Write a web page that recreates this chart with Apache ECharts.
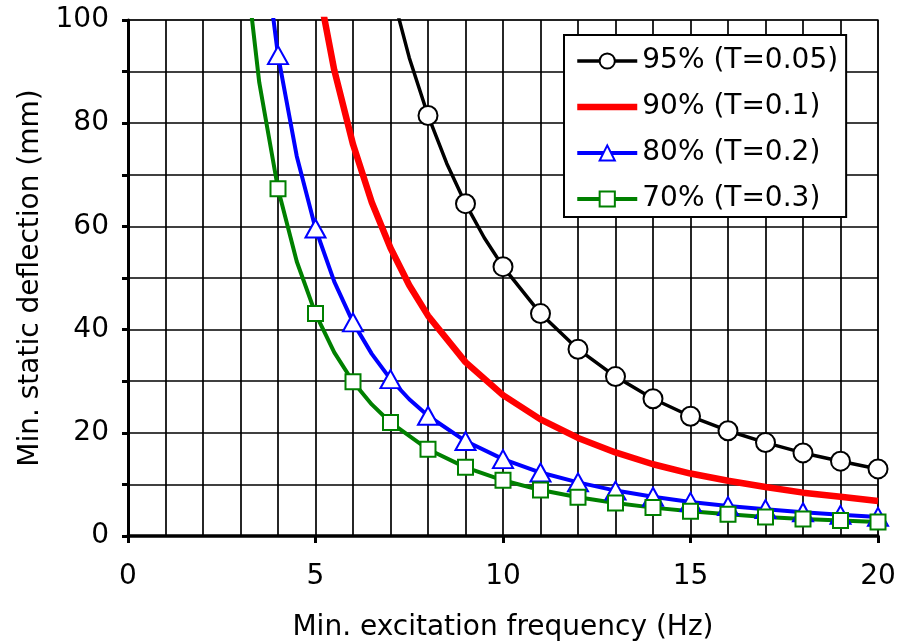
<!DOCTYPE html>
<html>
<head>
<meta charset="utf-8">
<script src="https://cdn.jsdelivr.net/npm/echarts@6/dist/echarts.min.js"></script>
<style>
  html, body { margin: 0; padding: 0; background: #fff; }
  #chart { width: 913px; height: 644px; }
</style>
</head>
<body>
<div id="chart"></div>
<script>
// Minimum static deflection needed for a given isolation efficiency
const seriesNames = ['95% (T=0.05)', '90% (T=0.1)', '80% (T=0.2)', '70% (T=0.3)'];

const freq95 = [7, 7.5, 8, 8.5, 9, 9.5, 10, 11, 12, 13, 14, 15, 16, 17, 18, 19, 20];
const defl95 = [106.5, 92.7, 81.5, 72.2, 64.4, 57.8, 52.2, 43.1, 36.2, 30.9, 26.6, 23.2, 20.4, 18.1, 16.1, 14.5, 13.0];

const freq90 = [5, 5.5, 6, 6.5, 7, 7.5, 8, 9, 10, 11, 12, 13, 14, 15, 16, 17, 18, 19, 20];
const defl90 = [109.3, 90.3, 75.9, 64.7, 55.8, 48.6, 42.7, 33.7, 27.3, 22.6, 19.0, 16.2, 13.9, 12.1, 10.7, 9.5, 8.4, 7.6, 6.8];

const freq80 = [3.5, 4, 4.5, 5, 5.5, 6, 6.5, 7, 7.5, 8, 9, 10, 11, 12, 13, 14, 15, 16, 17, 18, 19, 20];
const defl80 = [121.7, 93.2, 73.6, 59.6, 49.3, 41.4, 35.3, 30.4, 26.5, 23.3, 18.4, 14.9, 12.3, 10.4, 8.8, 7.6, 6.6, 5.8, 5.2, 4.6, 4.1, 3.7];

const freq70 = [3, 3.5, 4, 4.5, 5, 5.5, 6, 6.5, 7, 8, 9, 10, 11, 12, 13, 14, 15, 16, 17, 18, 19, 20];
const defl70 = [119.6, 87.9, 67.3, 53.2, 43.1, 35.6, 29.9, 25.5, 22.0, 16.8, 13.3, 10.8, 8.9, 7.5, 6.4, 5.5, 4.8, 4.2, 3.7, 3.3, 3.0, 2.7];

const xTicks = [0, 5, 10, 15, 20];
const yTicks = [0, 20, 40, 60, 80, 100];

const FONT = '"DejaVu Sans", Verdana, sans-serif';
const LINE_W = [3.5, 6.5, 4, 4];
const COLORS = ['#000000', '#ff0000', '#0000ff', '#008000'];

// markers sit on whole-hertz points only; in-between points just shape the curve
function points(xs, ys) {
  return xs.map((x, i) => Number.isInteger(x)
    ? { value: [x, ys[i]] }
    : { value: [x, ys[i]], symbol: 'none' });
}

const chart = echarts.init(document.getElementById('chart'), null, { renderer: 'canvas' });

chart.setOption({
  animation: false,
  backgroundColor: '#fff',
  grid: {
    left: 128, right: 35, top: 20, bottom: 108,
    outerBoundsMode: 'none',
    show: true, borderColor: '#8c8c8c', borderWidth: 2, backgroundColor: 'transparent'
  },
  legend: {
    orient: 'vertical',
    left: 564, top: 35,
    padding: [10, 8, 2, 10],
    backgroundColor: '#fff',
    borderColor: '#000', borderWidth: 2,
    itemWidth: 60, itemHeight: 19, itemGap: 14,
    textStyle: { fontFamily: FONT, fontSize: 28, color: '#000', lineHeight: 32 },
    data: [
      { name: seriesNames[0], lineStyle: { width: LINE_W[0] } },
      { name: seriesNames[1], lineStyle: { width: LINE_W[1] }, itemStyle: { opacity: 0 } },
      { name: seriesNames[2], lineStyle: { width: LINE_W[2] } },
      { name: seriesNames[3], lineStyle: { width: LINE_W[3] } }
    ]
  },
  xAxis: {
    type: 'value', min: 0, max: 20, interval: 5,
    name: 'Min. excitation frequency (Hz)',
    nameLocation: 'middle', nameGap: 78,
    nameTextStyle: { fontFamily: FONT, fontSize: 28, color: '#000' },
    axisLine: { show: true, onZero: false, lineStyle: { color: '#000', width: 3.5 } },
    axisTick: { show: true, length: 7, lineStyle: { color: '#000', width: 3 } },
    axisLabel: {
      fontFamily: FONT, fontSize: 28, color: '#000', margin: 27,
      formatter: v => xTicks.includes(v) ? String(v) : ''
    },
    splitLine: { show: true, lineStyle: { color: '#000', width: 1.7 } },
    minorTick: { show: false, splitNumber: 5 },
    minorSplitLine: { show: true, lineStyle: { color: '#000', width: 1.7 } }
  },
  yAxis: {
    type: 'value', min: 0, max: 100, interval: 20,
    name: 'Min. static deflection (mm)',
    nameLocation: 'middle', nameGap: 80,
    nameTextStyle: { fontFamily: FONT, fontSize: 28, color: '#000' },
    axisLine: { show: true, onZero: false, lineStyle: { color: '#000', width: 3 } },
    axisTick: { show: true, length: 6, lineStyle: { color: '#000', width: 3 } },
    axisLabel: {
      fontFamily: FONT, fontSize: 28, color: '#000', margin: 19,
      formatter: v => yTicks.includes(v) ? String(v) : ''
    },
    splitLine: { show: true, lineStyle: { color: '#000', width: 1.7 } },
    minorTick: { show: true, splitNumber: 2, length: 6, lineStyle: { color: '#000', width: 3 } },
    minorSplitLine: { show: true, lineStyle: { color: '#000', width: 1.7 } }
  },
  series: [
    {
      name: seriesNames[0], type: 'line', clip: true, z: 5,
      data: points(freq95, defl95),
      symbol: 'circle', symbolSize: 19,
      lineStyle: { color: COLORS[0], width: LINE_W[0] },
      itemStyle: { color: '#fff', borderColor: COLORS[0], borderWidth: 2 }
    },
    {
      name: seriesNames[1], type: 'line', clip: true, z: 4,
      data: freq90.map((x, i) => [x, defl90[i]]),
      symbol: 'none',
      lineStyle: { color: COLORS[1], width: LINE_W[1] },
      itemStyle: { color: COLORS[1] }
    },
    {
      name: seriesNames[2], type: 'line', clip: true, z: 5,
      data: points(freq80, defl80),
      symbol: 'triangle', symbolSize: [20, 18],
      lineStyle: { color: COLORS[2], width: LINE_W[2] },
      itemStyle: { color: '#fff', borderColor: COLORS[2], borderWidth: 2 }
    },
    {
      name: seriesNames[3], type: 'line', clip: true, z: 5,
      data: points(freq70, defl70),
      symbol: 'rect', symbolSize: 15,
      lineStyle: { color: COLORS[3], width: LINE_W[3] },
      itemStyle: { color: '#fff', borderColor: COLORS[3], borderWidth: 2 }
    }
  ]
});
</script>
</body>
</html>
